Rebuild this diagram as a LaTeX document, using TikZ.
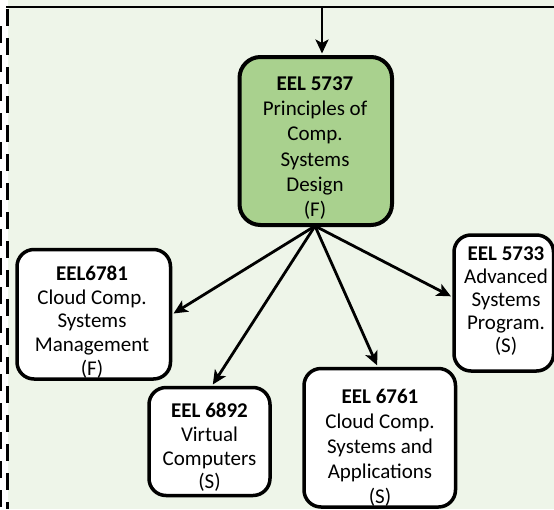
\documentclass[tikz,border=0pt]{standalone}
\usepackage{fontspec}
\setmainfont{Carlito}
\usetikzlibrary{arrows.meta,calc}
\definecolor{panelbg}{HTML}{EEF5E9}
\definecolor{corefill}{HTML}{A9D18E}
\begin{document}
\begin{tikzpicture}[x=1pt,y=-1pt,
  course/.style={draw=black, line width=3.5pt, rounded corners=17pt, fill=white, inner sep=0pt},
  coursetext/.style={align=center, inner sep=0pt, text=black, font=\fontsize{21}{23.7}\selectfont},
  link/.style={line width=2.8pt, -{Stealth[length=14pt,width=13pt,inset=3.5pt]}, shorten >=1.5pt}
]
\useasboundingbox (0,0) rectangle (554,509);
% panel background
\fill[white] (0,0) rectangle (554,509);
\fill[panelbg] (8,0) rectangle (554,509);
% panel borders
\draw[line width=3pt, dash pattern=on 17pt off 12pt] (7.5,9) -- (7.5,509);
\draw[line width=1.6pt, dash pattern=on 17pt off 12pt] (0.8,26) -- (0.8,509);
\draw[line width=2.5pt] (6,7) -- (554,7);

% core course
\node[course, fill=corefill, rounded corners=21pt, line width=4pt,
      minimum width=152.5pt, minimum height=168pt] (core) at (315.75,141) {};
\node[coursetext, font=\fontsize{21}{25.3}\selectfont] (coreText) at (315,148)
  {\textbf{EEL 5737}\\Principles of\\Comp.\\Systems\\Design\\(F)};

% follow-on courses
\node[course, minimum width=153.5pt, minimum height=129.5pt] (mgmt) at (93.75,314.25) {};
\node[coursetext] (mgmtText) at (92,322)
  {\textbf{EEL6781}\\Cloud Comp.\\Systems\\Management\\(F)};

\node[course, minimum width=121pt, minimum height=108pt] (virt) at (209.5,441.5) {};
\node[coursetext] (virtText) at (209.5,447.5)
  {\textbf{EEL 6892}\\Virtual\\Computers\\(S)};

\node[course, minimum width=151.5pt, minimum height=138.5pt] (apps) at (379.75,437.75) {};
\node[coursetext, font=\fontsize{21}{25}\selectfont] (appsText) at (380,448)
  {\textbf{EEL 6761}\\Cloud Comp.\\Systems and\\Applications\\(S)};

\node[course, minimum width=99.5pt, minimum height=136pt] (prog) at (503.75,303) {};
\node[coursetext, font=\fontsize{21}{23}\selectfont] (progText) at (506,301)
  {\textbf{EEL 5733}\\Advanced\\Systems\\Program.\\(S)};

% prerequisite arrows
\coordinate (feed) at (322,7);
\draw[link] (feed) -- (feed |- core.north);
\coordinate (fan) at (315,226);
\draw[link] (fan) -- (mgmt.east);
\draw[link] (fan) -- ($(virt.north)+(2.5,0)$);
\draw[link] (fan) -- ($(apps.north)+(-2,0)$);
\draw[link] (fan) -- ($(prog.west)+(0,-6)$);
\end{tikzpicture}
\end{document}
